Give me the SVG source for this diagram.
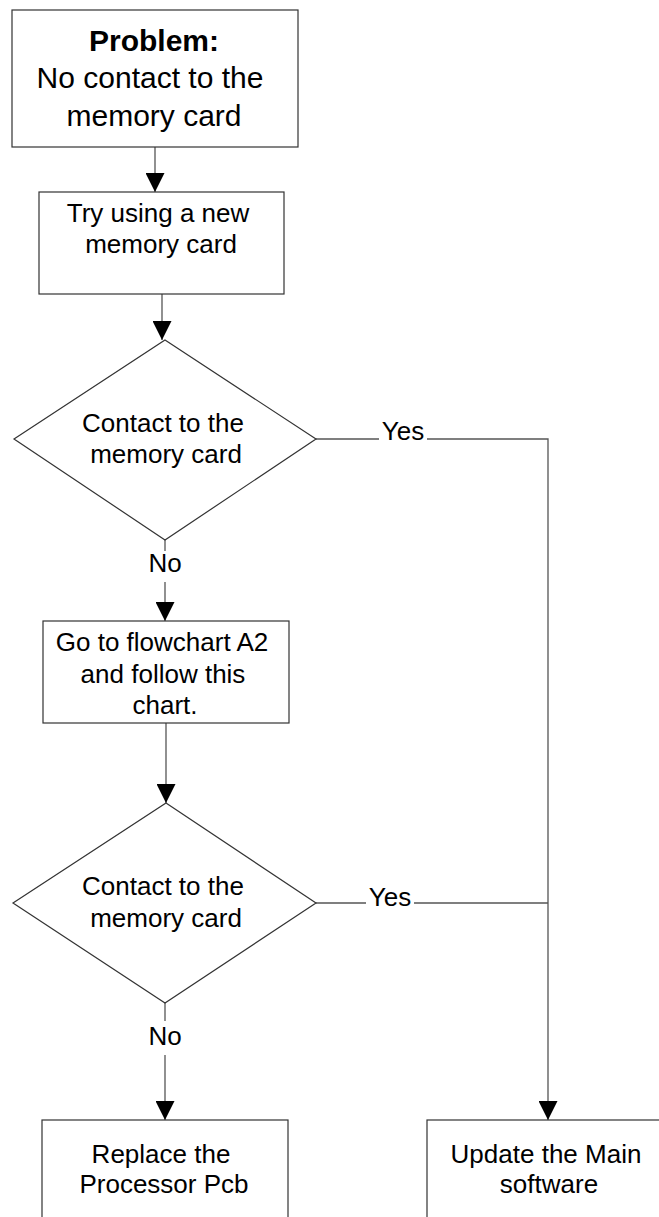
<svg xmlns="http://www.w3.org/2000/svg" width="659" height="1217" viewBox="0 0 659 1217">
<defs>
<marker id="arr" markerWidth="19" markerHeight="19" viewBox="0 0 19 19" refX="19" refY="9.5" orient="auto" markerUnits="userSpaceOnUse">
<path d="M0,0 L19,9.5 L0,19 Z" fill="#000"/>
</marker>
<style>
.box{fill:#fff;stroke:#333;stroke-width:1.2}
.con{fill:none;stroke:#555;stroke-width:1.3}
.t{font-family:"Liberation Sans",Arial,sans-serif;font-size:26px;fill:#000;text-anchor:middle}
.t1{font-family:"Liberation Sans",Arial,sans-serif;font-size:30px;fill:#000;text-anchor:middle}
.b{font-weight:bold}
</style>
</defs>
<rect width="659" height="1217" fill="#fff"/>
<g id="connectors">
<line class="con" x1="155" y1="147" x2="155" y2="192" marker-end="url(#arr)"/>
<line class="con" x1="162" y1="294" x2="162" y2="340" marker-end="url(#arr)"/>
<polyline class="con" points="316,439 379,439"/>
<polyline class="con" points="427,439 548,439 548,1120" marker-end="url(#arr)"/>
<line class="con" x1="165" y1="540" x2="165" y2="551"/>
<line class="con" x1="165" y1="582" x2="165" y2="621" marker-end="url(#arr)"/>
<line class="con" x1="166" y1="723" x2="166" y2="803" marker-end="url(#arr)"/>
<polyline class="con" points="316,903 366,903"/>
<polyline class="con" points="414,903 548,903"/>
<line class="con" x1="165" y1="1003" x2="165" y2="1021"/>
<line class="con" x1="165" y1="1055" x2="165" y2="1120" marker-end="url(#arr)"/>
<text class="t" x="403" y="440">Yes</text>
<text class="t" x="390" y="906">Yes</text>
<text class="t" x="165" y="572">No</text>
<text class="t" x="165" y="1045">No</text>
</g>
<g id="problem">
<rect class="box" x="12" y="10" width="286" height="137"/>
<text class="t1 b" x="154" y="51">Problem:</text>
<text class="t1" x="150" y="88">No contact to the</text>
<text class="t1" x="154" y="126">memory card</text>
</g>
<g id="try-new-card">
<rect class="box" x="39" y="192" width="245" height="102"/>
<text class="t" x="158" y="222">Try using a new</text>
<text class="t" x="161" y="253">memory card</text>
</g>
<g id="decision1">
<polygon class="box" points="165,340 316,439 165,540 14,439"/>
<text class="t" x="163" y="432">Contact to the</text>
<text class="t" x="166" y="463">memory card</text>
</g>
<g id="flowchart-a2">
<rect class="box" x="43" y="621" width="246" height="102"/>
<text class="t" x="162" y="651">Go to flowchart A2</text>
<text class="t" x="163" y="683">and follow this</text>
<text class="t" x="165" y="714">chart.</text>
</g>
<g id="decision2">
<polygon class="box" points="166,803 316,903 165,1003 13,903"/>
<text class="t" x="163" y="895">Contact to the</text>
<text class="t" x="166" y="927">memory card</text>
</g>
<g id="replace-pcb">
<rect class="box" x="42" y="1120" width="246" height="110"/>
<text class="t" x="161" y="1163">Replace the</text>
<text class="t" x="164" y="1193">Processor Pcb</text>
</g>
<g id="update-software">
<rect class="box" x="427" y="1120" width="250" height="110"/>
<text class="t" x="546" y="1163">Update the Main</text>
<text class="t" x="549" y="1193">software</text>
</g>
</svg>
